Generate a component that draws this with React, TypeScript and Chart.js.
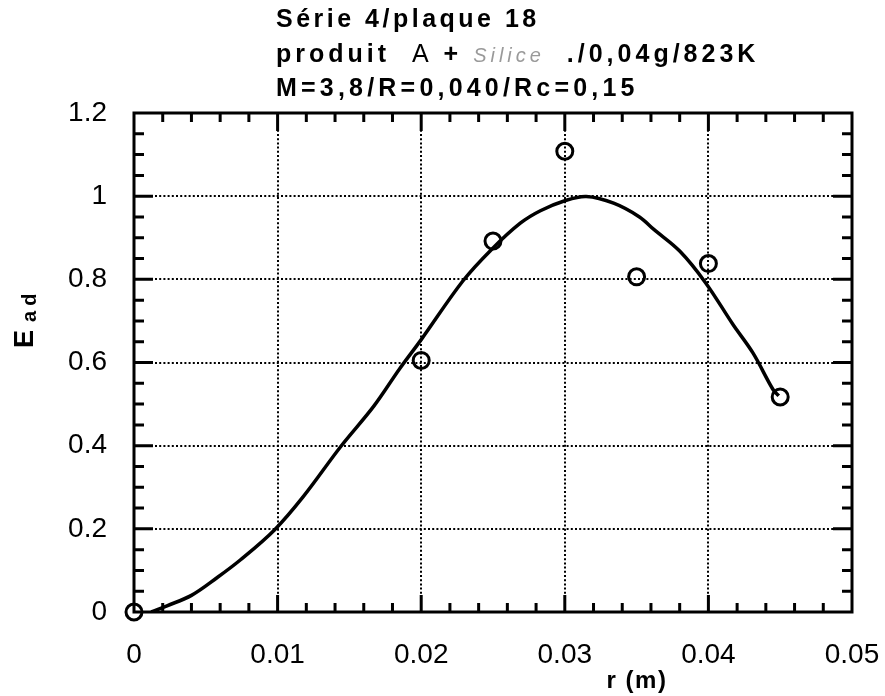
import React, { useEffect, useRef } from "react";
import { Chart, registerables } from "chart.js";

Chart.register(...registerables);

// ---- data ----
const titleLine1 = "Série 4/plaque 18";
const titleLine2Parts = ["produit  ", "A", " + ", "Silice", "  ./0,04g/823K"];
const titleLine3 = "M=3,8/R=0,040/Rc=0,15";
const xAxisTitle = "r (m)";
const yAxisTitleMain = "E";
const yAxisTitleSub = "ad";

const xTicks = [0, 0.01, 0.02, 0.03, 0.04, 0.05];
const yTicks = [0, 0.2, 0.4, 0.6, 0.8, 1, 1.2];
const xTickLabels = ["0", "0.01", "0.02", "0.03", "0.04", "0.05"];
const yTickLabels = ["0", "0.2", "0.4", "0.6", "0.8", "1", "1.2"];

const measuredR = [0, 0.02, 0.025, 0.03, 0.035, 0.04, 0.045];
const measuredE = [0, 0.605, 0.892, 1.108, 0.806, 0.838, 0.517];

const fitR = [
  0.0012, 0.0023, 0.004, 0.0058, 0.0074, 0.0098, 0.0118, 0.0144, 0.0167,
  0.0185, 0.02, 0.0229, 0.0249, 0.0269, 0.0283, 0.03, 0.0315, 0.0334, 0.0352,
  0.0362, 0.038, 0.0398, 0.0417, 0.0431, 0.0445, 0.0449,
];
const fitE = [
  0.0, 0.015, 0.04, 0.083, 0.125, 0.198, 0.278, 0.398, 0.495, 0.585, 0.655,
  0.796, 0.872, 0.935, 0.965, 0.989, 0.999, 0.983, 0.95, 0.92, 0.868, 0.792,
  0.692, 0.623, 0.535, 0.52,
];

const FONT = "'Liberation Sans', Arial, Helvetica, sans-serif";

const framePlugin = {
  id: "framePlugin",
  afterDraw(chart: any) {
    const { ctx, chartArea } = chart;
    const xs = chart.scales.x;
    const ys = chart.scales.y;
    const { left, right, top, bottom } = chartArea;
    ctx.save();
    ctx.strokeStyle = "#000";
    ctx.lineCap = "butt";
    // ticks
    ctx.lineWidth = 3;
    const xMinorStep = 0.002;
    for (let i = 1; i < 25; i++) {
      const v = i * xMinorStep;
      const px = xs.getPixelForValue(v);
      const major = i % 5 === 0;
      const lenB = major ? 17 : 9;
      const lenT = major ? 18 : 9;
      ctx.beginPath();
      ctx.moveTo(px, bottom);
      ctx.lineTo(px, bottom - lenB);
      ctx.moveTo(px, top);
      ctx.lineTo(px, top + lenT);
      ctx.stroke();
    }
    const yMinorStep = 0.05;
    for (let i = 1; i < 24; i++) {
      const v = i * yMinorStep;
      const py = ys.getPixelForValue(v);
      const major = i % 4 === 0;
      const len = major ? 19 : 10;
      ctx.beginPath();
      ctx.moveTo(left, py);
      ctx.lineTo(left + len, py);
      ctx.moveTo(right, py);
      ctx.lineTo(right - len, py);
      ctx.stroke();
    }
    // frame
    ctx.lineWidth = 3;
    ctx.strokeRect(left, top, right - left, bottom - top);

    // title
    ctx.fillStyle = "#000";
    ctx.textAlign = "left";
    ctx.textBaseline = "alphabetic";
    const tx = 276;
    (ctx as any).letterSpacing = "3.5px";
    ctx.font = `bold 25px ${FONT}`;
    ctx.fillText(titleLine1, tx, 27);
    (ctx as any).letterSpacing = "4px";
    let cx = tx;
    titleLine2Parts.forEach((p, i) => {
      if (i === 1) {
        ctx.font = `normal 25px ${FONT}`;
        ctx.fillStyle = "#000";
      } else if (i === 3) {
        ctx.font = `italic 20px ${FONT}`;
        ctx.fillStyle = "#9a9a9a";
      } else {
        ctx.font = `bold 25px ${FONT}`;
        ctx.fillStyle = "#000";
      }
      ctx.fillText(p, cx, 62);
      cx += ctx.measureText(p).width;
    });
    ctx.fillStyle = "#000";
    (ctx as any).letterSpacing = "4.2px";
    ctx.font = `bold 25px ${FONT}`;
    ctx.fillText(titleLine3, tx, 96);

    // x axis title
    (ctx as any).letterSpacing = "1.5px";
    ctx.font = `bold 24px ${FONT}`;
    ctx.textAlign = "center";
    ctx.fillText(xAxisTitle, 637, 688);

    // y axis title
    ctx.save();
    ctx.translate(33, 348);
    ctx.rotate(-Math.PI / 2);
    ctx.textAlign = "left";
    (ctx as any).letterSpacing = "0px";
    ctx.font = `bold 27px ${FONT}`;
    ctx.fillText(yAxisTitleMain, 0, 0);
    const w = ctx.measureText(yAxisTitleMain).width;
    (ctx as any).letterSpacing = "5px";
    ctx.font = `bold 20px ${FONT}`;
    ctx.fillText(yAxisTitleSub, w + 8, 3);
    ctx.restore();

    ctx.restore();
  },
};

export default function App() {
  const ref = useRef<HTMLCanvasElement | null>(null);
  useEffect(() => {
    if (!ref.current) return;
    const gridColor = (c: any) => {
      const v = c.tick ? c.tick.value : null;
      return v === 0 || v === 0.05 || v === 1.2 ? "rgba(0,0,0,0)" : "#000";
    };
    const chart = new Chart(ref.current, {
      type: "scatter",
      data: {
        datasets: [
          {
            type: "line",
            label: "fit",
            data: fitR.map((r, i) => ({ x: r, y: fitE[i] })),
            borderColor: "#000",
            borderWidth: 3.5,
            pointRadius: 0,
            tension: 0.35,
            fill: false,
          } as any,
          {
            type: "scatter",
            label: "mesures",
            data: measuredR.map((r, i) => ({ x: r, y: measuredE[i] })),
            borderColor: "#000",
            backgroundColor: "rgba(0,0,0,0)",
            borderWidth: 3,
            pointRadius: 8,
            pointStyle: "circle",
            clip: false,
          } as any,
        ],
      },
      options: {
        animation: false,
        responsive: false,
        layout: { padding: { top: 113, right: 33, left: 0, bottom: 0 } },
        plugins: {
          legend: { display: false },
          tooltip: { enabled: false },
          title: { display: false },
        },
        scales: {
          x: {
            type: "linear",
            min: 0,
            max: 0.05,
            afterBuildTicks: (s: any) => {
              s.ticks = xTicks.map((v) => ({ value: v }));
            },
            afterFit: (s: any) => {
              s.height = 84;
              s.paddingLeft = 0;
              s.paddingRight = 0;
            },
            ticks: {
              autoSkip: false,
              maxRotation: 0,
              padding: 26,
              color: "#000",
              font: { size: 28, family: FONT },
              callback: (v: any) => {
                const i = xTicks.findIndex((t) => Math.abs(t - v) < 1e-9);
                return i >= 0 ? xTickLabels[i] : "";
              },
            },
            grid: {
              color: gridColor,
              lineWidth: 2,
              drawTicks: false,
            },
            border: { display: false, dash: [2, 2.2] },
          },
          y: {
            type: "linear",
            min: 0,
            max: 1.2,
            afterBuildTicks: (s: any) => {
              s.ticks = yTicks.map((v) => ({ value: v }));
            },
            afterFit: (s: any) => {
              s.width = 134;
              s.paddingTop = 0;
              s.paddingBottom = 0;
            },
            ticks: {
              autoSkip: false,
              padding: 27,
              color: "#000",
              font: { size: 28, family: FONT },
              callback: (v: any) => {
                const i = yTicks.findIndex((t) => Math.abs(t - v) < 1e-9);
                return i >= 0 ? yTickLabels[i] : "";
              },
            },
            grid: {
              color: gridColor,
              lineWidth: 2,
              drawTicks: false,
            },
            border: { display: false, dash: [2, 2.2] },
          },
        },
      },
      plugins: [framePlugin],
    });
    return () => chart.destroy();
  }, []);
  return (
    <div style={{ position: "fixed", left: 0, top: 0, width: 885, height: 696, background: "#fff" }}>
      <canvas ref={ref} width={885} height={696} style={{ display: "block" }} />
    </div>
  );
}
